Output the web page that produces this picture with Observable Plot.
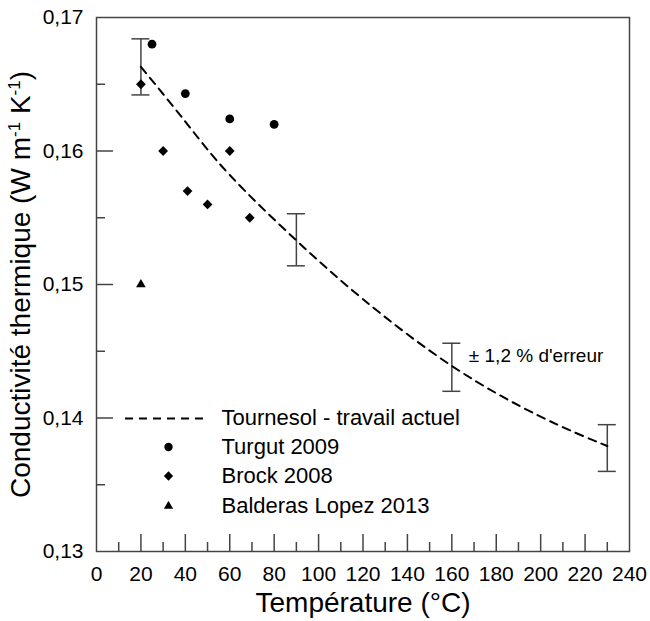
<!DOCTYPE html>
<html>
<head>
<meta charset="utf-8">
<script src="https://cdn.jsdelivr.net/npm/d3@7"></script>
<script src="https://cdn.jsdelivr.net/npm/@observablehq/plot@0.6"></script>
<style>
  html, body { margin: 0; padding: 0; background: #fff; }
</style>
</head>
<body>
<div id="chart"></div>
<script>
// ---- data ----
const curveT = [20, 40, 60, 90, 120, 160, 200, 230];
const curveK = [0.1663, 0.1622, 0.1582, 0.1533, 0.1489, 0.1439, 0.1401, 0.1379];

const turgutT = [25, 40, 60, 80];
const turgutK = [0.168, 0.1643, 0.1624, 0.162];

const brockT = [20, 30, 41, 50, 60, 69];
const brockK = [0.165, 0.160, 0.157, 0.156, 0.160, 0.155];

const balderasT = [20];
const balderasK = [0.150];

const errT  = [20, 90, 160, 230];
const errLo = [0.1642, 0.1514, 0.1420, 0.1360];
const errHi = [0.1684, 0.1553, 0.1456, 0.1395];

const xTicks = [0, 20, 40, 60, 80, 100, 120, 140, 160, 180, 200, 220, 240];
const xMajorInner = [20, 40, 60, 80, 100, 120, 140, 160, 180, 200, 220];
const xMinor = [10, 30, 50, 70, 90, 110, 130, 150, 170, 190, 210, 230];
const yTicks = [0.13, 0.14, 0.15, 0.16, 0.17];
const yMajorInner = [0.14, 0.15, 0.16];
const yMinor = [0.135, 0.145, 0.155, 0.165];

const legendLabels = ["Tournesol - travail actuel", "Turgut 2009", "Brock 2008", "Balderas Lopez 2013"];
const annotation = "± 1,2 % d'erreur";
const xTitle = "Température (°C)";
const yTitle = "Conductivité thermique (W m-1 K-1)";

// ---- tables ----
const curve = curveT.map((t, i) => ({T: t, k: curveK[i]}));
const turgut = turgutT.map((t, i) => ({T: t, k: turgutK[i]}));
const brock = brockT.map((t, i) => ({T: t, k: brockK[i]}));
const balderas = balderasT.map((t, i) => ({T: t, k: balderasK[i]}));
const errBars = errT.map((t, i) => ({T: t, lo: errLo[i], hi: errHi[i]}));

const W = 650, H = 621;
const mTop = 17, mRight = 21, mBottom = 70, mLeft = 96;
const innerW = W - mLeft - mRight, innerH = H - mTop - mBottom;
const axisColor = "#444";
const fmtY = d => d.toFixed(2).replace(".", ",");

const legendRowDy = [-133.5, -104.5, -75.5, -45.5];
const legendSymbols = [null, "circle", "diamond2", "triangle"];
const symR = {circle: 4.4, diamond2: 4.4, triangle: 3.6};

const marks = [
  Plot.frame({stroke: axisColor, strokeWidth: 1.5}),
  // inward ticks
  Plot.tickX(xMajorInner, {x: d => d, insetTop: innerH - 17, stroke: axisColor, strokeWidth: 1.5}),
  Plot.tickX(xMinor, {x: d => d, insetTop: innerH - 9, stroke: axisColor, strokeWidth: 1.5}),
  Plot.tickY(yMajorInner, {y: d => d, insetRight: innerW - 17, stroke: axisColor, strokeWidth: 1.5}),
  Plot.tickY(yMinor, {y: d => d, insetRight: innerW - 9, stroke: axisColor, strokeWidth: 1.5}),
  // tick labels
  Plot.axisX({ticks: xTicks, tickSize: 0, tickPadding: 15, tickFormat: d => String(d), fontSize: 21, label: null}),
  Plot.axisY({ticks: yTicks, tickSize: 0, tickPadding: 13, tickFormat: fmtY, fontSize: 21, label: null}),
  // titles
  Plot.axisX({ticks: [], tickSize: 0, label: xTitle, labelAnchor: "center", labelArrow: "none", labelOffset: 60, fontSize: 28}),
  Plot.axisY({ticks: [], tickSize: 0, label: yTitle, labelAnchor: "center", labelArrow: "none", labelOffset: 86, fontSize: 28}),
  // error bars
  Plot.ruleX(errBars, {x: "T", y1: "lo", y2: "hi", stroke: axisColor, strokeWidth: 1.5}),
  Plot.ruleY(errBars, {y: "hi", x1: "T", x2: "T", insetLeft: -9, insetRight: -9, stroke: axisColor, strokeWidth: 1.5}),
  Plot.ruleY(errBars, {y: "lo", x1: "T", x2: "T", insetLeft: -9, insetRight: -9, stroke: axisColor, strokeWidth: 1.5}),
  // dashed model curve
  Plot.line(curve, {x: "T", y: "k", curve: "natural", stroke: "black", strokeWidth: 2, strokeDasharray: "8,6"}),
  // literature data
  Plot.dot(turgut, {x: "T", y: "k", symbol: "circle", r: symR.circle, fill: "black", stroke: "none"}),
  Plot.dot(brock, {x: "T", y: "k", symbol: "diamond2", r: symR.diamond2, fill: "black", stroke: "none"}),
  Plot.dot(balderas, {x: "T", y: "k", symbol: "triangle", r: symR.triangle, fill: "black", stroke: "none"}),
  // annotation next to the 160 °C error bar
  Plot.text(errBars.filter(d => d.T === 160), {x: "T", y: "hi", text: () => annotation, dx: 17, dy: 13, textAnchor: "start", lineAnchor: "middle", fontSize: 19, fill: "black"}),
  // legend: dashed sample on the 0,14 row
  Plot.ruleY([yTicks[1]], {y: d => d, insetLeft: 29, insetRight: innerW - 111, stroke: "black", strokeWidth: 2, strokeDasharray: "8,6", dy: 0.5})
];

legendLabels.forEach((lab, i) => {
  marks.push(Plot.text([lab], {frameAnchor: "bottom-left", text: d => d, dx: 125, dy: legendRowDy[i], textAnchor: "start", lineAnchor: "middle", fontSize: 22, fill: "black"}));
  if (legendSymbols[i]) {
    marks.push(Plot.dot([lab], {frameAnchor: "bottom-left", dx: 72, dy: legendRowDy[i], symbol: legendSymbols[i], r: symR[legendSymbols[i]] * 0.95, fill: "black", stroke: "none"}));
  }
});

const chart = Plot.plot({
  width: W,
  height: H,
  marginTop: mTop,
  marginRight: mRight,
  marginBottom: mBottom,
  marginLeft: mLeft,
  x: {domain: [0, 240]},
  y: {domain: [0.13, 0.17]},
  style: {fontFamily: "'Liberation Sans', Arial, sans-serif", background: "white", color: "black", overflow: "visible"},
  marks
});

// superscripts in the y title
chart.querySelectorAll("text").forEach(t => {
  if (t.textContent === yTitle) {
    const host = t.querySelector("tspan") || t;
    host.textContent = "";
    const NS = "http://www.w3.org/2000/svg";
    const parts = [["Conductivité thermique (W m", 0], ["-1", 1], [" K", 0], ["-1", 1], [")", 0]];
    let raised = false;
    parts.forEach(([s, sup]) => {
      const ts = document.createElementNS(NS, "tspan");
      ts.textContent = s;
      if (sup) { ts.setAttribute("font-size", "17"); ts.setAttribute("dy", "-10"); raised = true; }
      else if (raised) { ts.setAttribute("dy", "10"); raised = false; }
      host.appendChild(ts);
    });
  }
});

document.getElementById("chart").appendChild(chart);
</script>
</body>
</html>
